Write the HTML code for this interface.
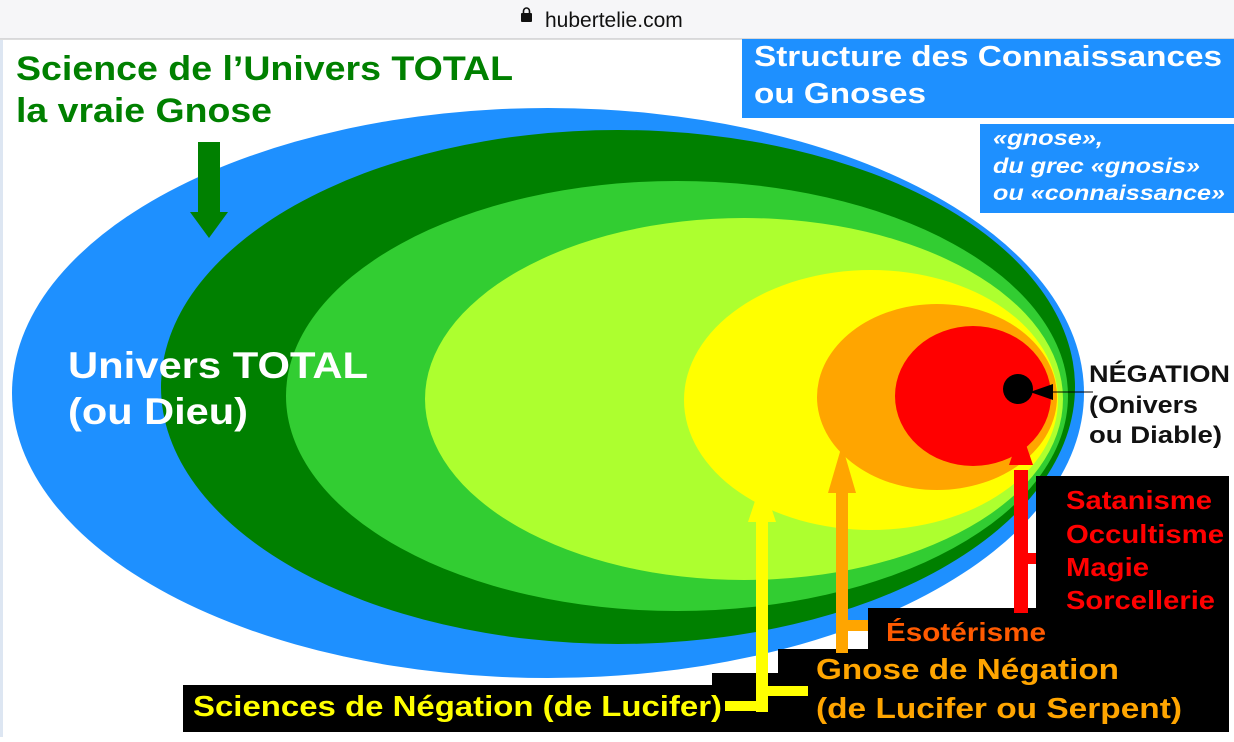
<!DOCTYPE html>
<html><head><meta charset="utf-8"><style>
body{margin:0;width:1234px;height:737px;overflow:hidden;background:#fff;font-family:"Liberation Sans",sans-serif}
</style></head><body>
<svg width="1234" height="737" viewBox="0 0 1234 737" xmlns="http://www.w3.org/2000/svg" font-family="Liberation Sans, sans-serif" font-weight="bold">
<rect x="0" y="0" width="1234" height="39" fill="#f6f6f8"/>
<line x1="0" y1="39" x2="1234" y2="39" stroke="#bbb"/>
<rect x="0" y="40" width="3" height="697" fill="#dde6f2"/>
<rect x="521" y="13" width="11" height="9" rx="1" fill="#111"/>
<path d="M523.5 14 v-3 a3 3 0 0 1 6 0 v3" fill="none" stroke="#111" stroke-width="1.6"/>
<text x="545" y="27" font-size="21" font-weight="normal" fill="#111">hubertelie.com</text>

<ellipse cx="548" cy="393" rx="536" ry="285" fill="#1e90ff"/>
<ellipse cx="618" cy="387" rx="457" ry="257" fill="#008000"/>
<ellipse cx="677" cy="396" rx="391" ry="215" fill="#32cd32"/>
<ellipse cx="744" cy="399" rx="319" ry="181" fill="#adff2f"/>
<ellipse cx="871" cy="400" rx="187" ry="130" fill="#ffff00"/>
<ellipse cx="937" cy="397" rx="120" ry="93" fill="#ffa500"/>
<ellipse cx="973" cy="396" rx="78" ry="70" fill="#ff0000"/>
<circle cx="1018" cy="389" r="15" fill="#000"/>
<line x1="1040" y1="392" x2="1093" y2="392" stroke="#000" stroke-width="1"/>
<polygon points="1030,392 1053,384 1053,400" fill="#000"/>

<polygon points="183,685 712,685 712,673 778,673 778,649 868,649 868,608 1036,608 1036,476 1229,476 1229,732 183,732" fill="#000"/>

<rect x="198" y="142" width="22" height="72" fill="#008000"/>
<polygon points="190,212 228,212 209,238" fill="#008000"/>

<rect x="756" y="520" width="12" height="192" fill="#ffff00"/>
<polygon points="748,522 776,522 762,480" fill="#ffff00"/>
<rect x="725" y="701" width="37" height="10" fill="#ffff00"/>
<rect x="762" y="686" width="46" height="10" fill="#ffff00"/>

<rect x="836" y="485" width="12" height="168" fill="#ffa500"/>
<polygon points="828,493 856,493 842,445" fill="#ffa500"/>
<rect x="842" y="620" width="26" height="11" fill="#ffa500"/>

<rect x="1014" y="470" width="14" height="143" fill="#ff0000"/>
<polygon points="1009,465 1033,465 1021,430" fill="#ff0000"/>
<rect x="1021" y="553" width="15" height="11" fill="#ff0000"/>

<rect x="742" y="39" width="492" height="79" fill="#1e90ff"/>
<text x="754" y="66" font-size="29" fill="#fff" textLength="468" lengthAdjust="spacingAndGlyphs">Structure des Connaissances</text>
<text x="754" y="103" font-size="29" fill="#fff" textLength="172" lengthAdjust="spacingAndGlyphs">ou Gnoses</text>
<rect x="980" y="124" width="254" height="89" fill="#1e90ff"/>
<g font-size="21" fill="#fff" font-style="italic">
<text x="993" y="145" textLength="110" lengthAdjust="spacingAndGlyphs">«gnose»,</text>
<text x="993" y="173" textLength="207" lengthAdjust="spacingAndGlyphs">du grec «gnosis»</text>
<text x="993" y="200" textLength="232" lengthAdjust="spacingAndGlyphs">ou «connaissance»</text>
</g>

<text x="16" y="80" font-size="34" fill="#008000" textLength="497" lengthAdjust="spacingAndGlyphs">Science de l’Univers TOTAL</text>
<text x="16" y="122" font-size="34" fill="#008000" textLength="256" lengthAdjust="spacingAndGlyphs">la vraie Gnose</text>

<text x="68" y="378" font-size="37" fill="#fff" textLength="300" lengthAdjust="spacingAndGlyphs">Univers TOTAL</text>
<text x="68" y="424" font-size="37" fill="#fff" textLength="180" lengthAdjust="spacingAndGlyphs">(ou Dieu)</text>

<g font-size="24" fill="#111">
<text x="1089" y="382" textLength="141" lengthAdjust="spacingAndGlyphs">NÉGATION</text>
<text x="1089" y="413" textLength="109" lengthAdjust="spacingAndGlyphs">(Onivers</text>
<text x="1089" y="443" textLength="133" lengthAdjust="spacingAndGlyphs">ou Diable)</text>
</g>

<g font-size="26" fill="#ff0000">
<text x="1066" y="509" textLength="146" lengthAdjust="spacingAndGlyphs">Satanisme</text>
<text x="1066" y="543" textLength="158" lengthAdjust="spacingAndGlyphs">Occultisme</text>
<text x="1066" y="576" textLength="83" lengthAdjust="spacingAndGlyphs">Magie</text>
<text x="1066" y="609" textLength="149" lengthAdjust="spacingAndGlyphs">Sorcellerie</text>
</g>
<text x="886" y="641" font-size="26" fill="#ff5a00" textLength="160" lengthAdjust="spacingAndGlyphs">Ésotérisme</text>
<g font-size="29" fill="#ffa500">
<text x="816" y="679" textLength="303" lengthAdjust="spacingAndGlyphs">Gnose de Négation</text>
<text x="816" y="718" textLength="366" lengthAdjust="spacingAndGlyphs">(de Lucifer ou Serpent)</text>
</g>
<text x="193" y="716" font-size="29" fill="#ffff00" textLength="529" lengthAdjust="spacingAndGlyphs">Sciences de Négation (de Lucifer)</text>
</svg>
</body></html>
